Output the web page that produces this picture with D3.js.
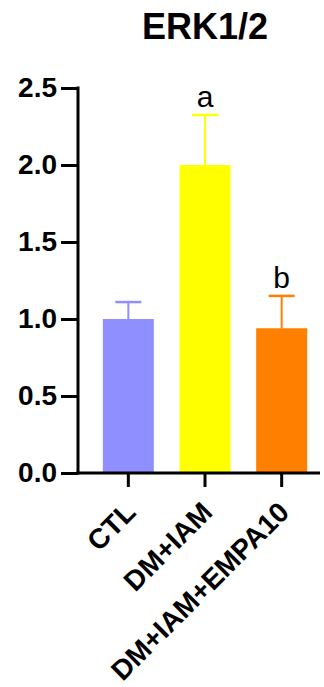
<!DOCTYPE html>
<html>
<head>
<meta charset="utf-8">
<script src="https://cdn.jsdelivr.net/npm/d3@7"></script>
<style>
  html, body { margin: 0; padding: 0; background: #fff; }
  svg { display: block; }
</style>
</head>
<body>
<div id="chart"></div>
<script>
// ERK1/2 relative expression by treatment group (mean + SEM)
const categories = ["CTL", "DM+IAM", "DM+IAM+EMPA10"];
const means = [1.0, 2.0, 0.94];
const errors = [0.11, 0.325, 0.21];
const letters = ["", "a", "b"];
const colors = ["#8f8fff", "#ffff00", "#ff8000"];
const yTicks = [0, 0.5, 1.0, 1.5, 2.0, 2.5];

const W = 324, H = 687;
const svg = d3.select("#chart").append("svg")
  .attr("width", W).attr("height", H);

const axisX0 = 78, axisX1 = 320;
const y = d3.scaleLinear().domain([0, 2.5]).range([473, 88]);
const x = d3.scaleBand().domain(categories).range([90, 320]);
const barW = x.bandwidth() * 0.665;
const cx = d => x(d) + x.bandwidth() / 2;

const font = "'Liberation Sans', Arial, Helvetica, sans-serif";

// Title
svg.append("text")
  .attr("x", 205).attr("y", 39)
  .attr("text-anchor", "middle")
  .attr("font-family", font).attr("font-weight", "bold")
  .attr("font-size", 36)
  .text("ERK1/2");

// Bars
const g = svg.append("g");
categories.forEach((c, i) => {
  g.append("rect")
    .attr("x", cx(c) - barW / 2)
    .attr("y", y(means[i]))
    .attr("width", barW)
    .attr("height", y(0) - y(means[i]))
    .attr("fill", colors[i]);
  // error bar (upper only)
  const top = y(means[i] + errors[i]);
  g.append("line")
    .attr("x1", cx(c)).attr("x2", cx(c))
    .attr("y1", y(means[i])).attr("y2", top)
    .attr("stroke", colors[i]).attr("stroke-width", 2);
  g.append("line")
    .attr("x1", cx(c) - 13).attr("x2", cx(c) + 13)
    .attr("y1", top).attr("y2", top)
    .attr("stroke", colors[i]).attr("stroke-width", 2.5);
  if (letters[i]) {
    g.append("text")
      .attr("x", cx(c)).attr("y", top - 8)
      .attr("text-anchor", "middle")
      .attr("font-family", font)
      .attr("font-size", 30)
      .text(letters[i]);
  }
});

// Y axis
const yAxis = svg.append("g")
  .attr("transform", `translate(${axisX0},0)`)
  .call(d3.axisLeft(y).tickValues(yTicks).tickFormat(d3.format(".1f"))
    .tickSize(17).tickSizeOuter(0).tickPadding(4));
yAxis.select(".domain").attr("stroke", "#000").attr("stroke-width", 3)
  .attr("d", `M0,${y(2.5) - 1.5}V${y(0) + 1.5}`);
yAxis.selectAll(".tick line").attr("stroke", "#000").attr("stroke-width", 3);
yAxis.selectAll(".tick text")
  .attr("font-family", font).attr("font-weight", "bold")
  .attr("font-size", 28).attr("fill", "#000");

// X axis
const xAxis = svg.append("g")
  .attr("transform", `translate(0,${y(0)})`)
  .call(d3.axisBottom(x).tickSize(14).tickSizeOuter(0).tickFormat(""));
xAxis.select(".domain").attr("stroke", "#000").attr("stroke-width", 3)
  .attr("d", `M${axisX0 - 1.5},0H${axisX1}`);
xAxis.selectAll(".tick line").attr("stroke", "#000").attr("stroke-width", 3);

// Rotated category labels
categories.forEach(c => {
  svg.append("text")
    .attr("transform", `translate(${cx(c) + 9},${y(0) + 41}) rotate(-45)`)
    .attr("text-anchor", "end")
    .attr("font-family", font).attr("font-weight", "bold")
    .attr("font-size", 28)
    .text(c);
});
</script>
</body>
</html>
